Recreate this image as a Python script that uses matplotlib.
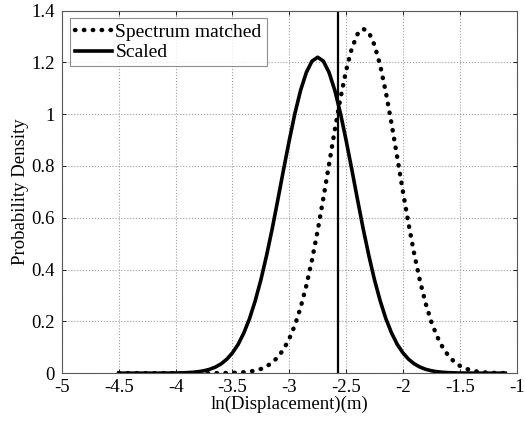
import matplotlib
matplotlib.use("Agg")
import matplotlib.pyplot as plt

plt.rcParams['font.family'] = ['Liberation Serif', 'DejaVu Serif']

x_vals = [-4.5, -4.45, -4.4, -4.35, -4.3, -4.25, -4.2, -4.15, -4.1, -4.05,
          -4.0, -3.95, -3.9, -3.85, -3.8, -3.75, -3.7, -3.65, -3.6, -3.55,
          -3.5, -3.45, -3.4, -3.35, -3.3, -3.25, -3.2, -3.15, -3.1, -3.05,
          -3.0, -2.95, -2.9, -2.85, -2.8, -2.75, -2.7, -2.65, -2.6, -2.55,
          -2.5, -2.45, -2.4, -2.35, -2.3, -2.25, -2.2, -2.15, -2.1, -2.05,
          -2.0, -1.95, -1.9, -1.85, -1.8, -1.75, -1.7, -1.65, -1.6, -1.55,
          -1.5, -1.45, -1.4, -1.35, -1.3, -1.25, -1.2, -1.15, -1.1]

spectrum_matched = [0, 0, 0, 0, 0, 0, 0, 0, 0, 0,
                    0, 0, 0, 0, 0, 0, 0, 0.0001, 0.0003, 0.0005,
                    0.0010, 0.0019, 0.0034, 0.0058, 0.0099, 0.0163, 0.0261, 0.0408, 0.0621, 0.092,
                    0.1326, 0.186, 0.254, 0.338, 0.437, 0.551, 0.676, 0.807, 0.938, 1.061,
                    1.169, 1.254, 1.309, 1.330, 1.316, 1.267, 1.188, 1.084, 0.963, 0.833,
                    0.701, 0.575, 0.459, 0.356, 0.269, 0.198, 0.142, 0.0992, 0.0673, 0.0445,
                    0.0286, 0.0180, 0.0109, 0.0065, 0.0038, 0.0021, 0.0012, 0.0006, 0.0003]

scaled = [0, 0, 0, 0, 0, 0, 0, 0.0001, 0.0002, 0.0003,
          0.0006, 0.0011, 0.0019, 0.0033, 0.0056, 0.0092, 0.0149, 0.0234, 0.0358, 0.0536,
          0.0783, 0.111, 0.155, 0.210, 0.279, 0.360, 0.454, 0.558, 0.671, 0.787,
          0.899, 1.004, 1.093, 1.161, 1.205, 1.22, 1.205, 1.161, 1.093, 1.004,
          0.899, 0.787, 0.671, 0.558, 0.454, 0.360, 0.279, 0.210, 0.155, 0.111,
          0.0783, 0.0536, 0.0358, 0.0234, 0.0149, 0.0092, 0.0056, 0.0033, 0.0019, 0.0011,
          0.0006, 0.0003, 0.0002, 0.0001, 0, 0, 0, 0, 0]

threshold_x = -2.57

x_ticks = [-5, -4.5, -4, -3.5, -3, -2.5, -2, -1.5, -1]
x_tick_labels = ['-5', '-4.5', '-4', '-3.5', '-3', '-2.5', '-2', '-1.5', '-1']
y_ticks = [0, 0.2, 0.4, 0.6, 0.8, 1.0, 1.2, 1.4]
y_tick_labels = ['0', '0.2', '0.4', '0.6', '0.8', '1', '1.2', '1.4']

fig = plt.figure(figsize=(5.25, 4.25), dpi=100)
ax = fig.add_axes([0.118, 0.122, 0.866, 0.853])

ax.plot(x_vals, spectrum_matched, color='black', lw=3.2,
        dashes=(0.1, 1.9), dash_capstyle='round', label='Spectrum matched')
ax.plot(x_vals, scaled, color='black', lw=2.6, label='Scaled')
ax.axvline(threshold_x, color='black', lw=1.6)

ax.set_xlim(-5, -1)
ax.set_ylim(0, 1.4)
ax.set_xticks(x_ticks)
ax.set_xticklabels(x_tick_labels)
ax.set_yticks(y_ticks)
ax.set_yticklabels(y_tick_labels)
ax.tick_params(direction='in', length=3, labelsize=13.5, top=True, right=True, width=0.6)
ax.tick_params(axis='x', pad=4)
ax.tick_params(axis='y', pad=5)
ax.grid(True, color='0.62', linestyle=':', linewidth=0.8)
for s in ax.spines.values():
    s.set_linewidth(0.8)
    s.set_color('0.35')

ax.set_xlabel('ln(Displacement)(m)', fontsize=13.5, labelpad=0)
ax.set_ylabel('Probability Density', fontsize=13.5, labelpad=2)

leg = ax.legend(loc='upper left', fontsize=14, frameon=True, fancybox=False,
                edgecolor='0.45', handlelength=1.9, handletextpad=0.2,
                borderpad=0.25, labelspacing=0.15, borderaxespad=0.4)
leg.get_frame().set_linewidth(0.8)

fig.savefig('out.png', dpi=100)
